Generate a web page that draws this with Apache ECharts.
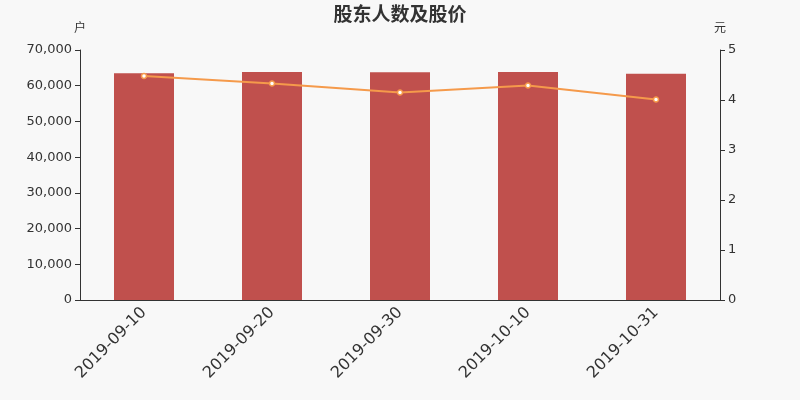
<!DOCTYPE html>
<html>
<head>
<meta charset="utf-8">
<script src="https://cdn.jsdelivr.net/npm/echarts@6/dist/echarts.min.js"></script>
<style>
  html, body { margin: 0; padding: 0; background: #f8f8f8; }
  #chart { width: 800px; height: 400px; }
</style>
</head>
<body>
<div id="chart"></div>
<script>
const dates = ["2019-09-10", "2019-09-20", "2019-09-30", "2019-10-10", "2019-10-31"];
const holders = [63470, 63840, 63750, 63840, 63370];
const prices = [4.48, 4.33, 4.15, 4.29, 4.01];

const chart = echarts.init(document.getElementById("chart"));

const axisCommon = {
  axisLine: { show: true, lineStyle: { color: "#333" } },
  axisTick: { show: true, lineStyle: { color: "#333" } },
  axisLabel: { color: "#333", fontSize: 13 },
  splitLine: { show: false },
  nameTextStyle: { color: "#333", fontSize: 12 },
};

const option = {
  backgroundColor: "#f8f8f8",
  textStyle: { fontFamily: "DejaVu Sans, Noto Sans CJK SC, sans-serif" },
  title: {
    text: "股东人数及股价",
    left: "center",
    top: 2,
    textStyle: { color: "#333", fontSize: 19, fontWeight: "bold" },
  },
  grid: { left: 80, right: 80, top: 50, bottom: 100 },
  xAxis: {
    type: "category",
    data: dates,
    axisLine: { lineStyle: { color: "#333" } },
    axisTick: { lineStyle: { color: "#333" } },
    axisLabel: { color: "#333", fontSize: 16, rotate: 45, interval: 0, margin: 10 },
  },
  yAxis: [
    Object.assign({}, axisCommon, {
      type: "value",
      name: "户",
      min: 0,
      max: 70000,
      interval: 10000,
      nameGap: 15,
      axisLabel: {
        color: "#333",
        fontSize: 13,
        formatter: (v) => v.toLocaleString("en-US"),
      },
    }),
    Object.assign({}, axisCommon, {
      type: "value",
      name: "元",
      min: 0,
      max: 5,
      interval: 1,
      nameGap: 15,
    }),
  ],
  series: [
    {
      type: "bar",
      data: holders,
      barWidth: 60,
      itemStyle: { color: "#c0504d" },
    },
    {
      type: "line",
      yAxisIndex: 1,
      data: prices,
      symbol: "circle",
      symbolSize: 5,
      lineStyle: { color: "#f59a4b", width: 2 },
      itemStyle: { color: "#fff", borderColor: "#f59a4b", borderWidth: 1.5 },
    },
  ],
};

chart.setOption(option);
</script>
</body>
</html>
